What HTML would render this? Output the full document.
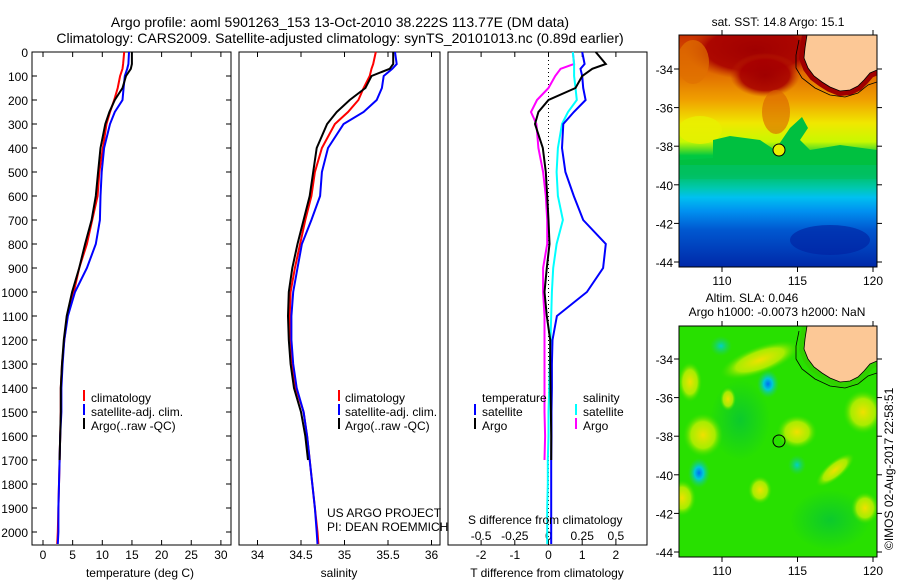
<!DOCTYPE html>
<html><head><meta charset="utf-8"><style>
body{margin:0;background:#fff;}
svg text{font-family:"Liberation Sans",sans-serif;fill:#000;}
</style></head><body>
<svg id="fig" width="900" height="580" viewBox="0 0 900 580" xmlns="http://www.w3.org/2000/svg">
<defs>
<linearGradient id="sstg" x1="0" y1="0" x2="0" y2="1">
<stop offset="0" stop-color="#c83000"/><stop offset="0.16" stop-color="#e06a00"/>
<stop offset="0.28" stop-color="#f0a000"/><stop offset="0.38" stop-color="#f0e800"/>
<stop offset="0.46" stop-color="#c8f800"/><stop offset="0.52" stop-color="#00c840"/>
<stop offset="0.6" stop-color="#00c060"/><stop offset="0.66" stop-color="#00c8b0"/>
<stop offset="0.7" stop-color="#00c0f0"/><stop offset="0.76" stop-color="#0090f0"/>
<stop offset="0.84" stop-color="#0058d0"/><stop offset="1" stop-color="#0028a8"/>
</linearGradient>
<radialGradient id="yel"><stop offset="0" stop-color="#f0e000"/><stop offset="0.6" stop-color="#c8f000" stop-opacity="0.8"/><stop offset="1" stop-color="#40e000" stop-opacity="0"/></radialGradient>
<radialGradient id="cya"><stop offset="0" stop-color="#0070f0"/><stop offset="0.4" stop-color="#00c8d8"/><stop offset="1" stop-color="#20d060" stop-opacity="0"/></radialGradient>
<radialGradient id="cyl"><stop offset="0" stop-color="#00d0c8"/><stop offset="1" stop-color="#20d060" stop-opacity="0"/></radialGradient>
<radialGradient id="drk"><stop offset="0" stop-color="#a00000"/><stop offset="0.7" stop-color="#a80000" stop-opacity="0.9"/><stop offset="1" stop-color="#c03000" stop-opacity="0"/></radialGradient>
<radialGradient id="grn"><stop offset="0" stop-color="#00c040"/><stop offset="1" stop-color="#00c040" stop-opacity="0"/></radialGradient>
<clipPath id="clipTop"><rect x="679" y="35" width="198" height="232"/></clipPath>
<clipPath id="clipBot"><rect x="679" y="326" width="198" height="231"/></clipPath>
</defs>

<text x="340" y="27" font-size="14" text-anchor="middle">Argo profile: aoml 5901263_153 13-Oct-2010 38.222S 113.77E (DM data)</text>
<text x="340" y="43" font-size="14" text-anchor="middle">Climatology: CARS2009. Satellite-adjusted climatology: synTS_20101013.nc (0.89d earlier)</text>

<g id="p1"></g>
<g id="p2"></g>
<g id="p3"></g>

<g font-size="12">
<rect x="83" y="390" width="2" height="11" fill="#f00"/><text x="91" y="402">climatology</text>
<rect x="83" y="404" width="2" height="11" fill="#00f"/><text x="91" y="416">satellite-adj. clim.</text>
<rect x="83" y="418" width="2" height="11" fill="#000"/><text x="91" y="430">Argo(..raw -QC)</text>
</g>
<g font-size="12">
<rect x="338" y="390" width="2" height="11" fill="#f00"/><text x="345" y="402">climatology</text>
<rect x="338" y="404" width="2" height="11" fill="#00f"/><text x="345" y="416">satellite-adj. clim.</text>
<rect x="338" y="418" width="2" height="11" fill="#000"/><text x="345" y="430">Argo(..raw -QC)</text>
</g>
<g font-size="12">
<text x="482" y="402">temperature</text><text x="583" y="402">salinity</text>
<rect x="474" y="404" width="2" height="11" fill="#00f"/><text x="482" y="416">satellite</text>
<rect x="474" y="418" width="2" height="11" fill="#000"/><text x="482" y="430">Argo</text>
<rect x="575" y="404" width="2" height="11" fill="#0ff"/><text x="583" y="416">satellite</text>
<rect x="575" y="418" width="2" height="11" fill="#f0f"/><text x="583" y="430">Argo</text>
</g>
<text x="327" y="517" font-size="12">US ARGO PROJECT</text>
<text x="327" y="531" font-size="12">PI: DEAN ROEMMICH</text>
<text x="468" y="524" font-size="12">S difference from climatology</text>

<g>
<g clip-path="url(#clipTop)">
<rect x="679" y="35" width="198" height="232" fill="url(#sstg)"/>
<ellipse cx="755" cy="50" rx="70" ry="30" fill="url(#drk)"/>
<ellipse cx="765" cy="75" rx="35" ry="22" fill="url(#drk)"/>
<ellipse cx="693" cy="62" rx="16" ry="22" fill="#e07000" opacity="0.7"/>
<ellipse cx="776" cy="112" rx="14" ry="22" fill="#d86000" opacity="0.6"/>
<ellipse cx="700" cy="130" rx="22" ry="14" fill="#e8f000" opacity="0.8"/>
<path d="M713,140 L730,136 L760,140 L775,150 L790,128 L802,117 L808,128 L800,140 L810,150 L840,145 L877,150 L877,165 L679,165 L679,160 L713,158 Z" fill="#00c040"/>
<rect x="679" y="165" width="198" height="14" fill="#00c060" opacity="0.6"/>
<ellipse cx="830" cy="240" rx="40" ry="15" fill="#0020a0" opacity="0.6"/>
<path d="M807,35 L805,48 L804,58 L808,68 L814,76 L822,82 L830,87 L840,91 L850,90 L858,86 L864,80 L870,73 L877,70 L877,35 Z" fill="#a00000" stroke="#a00000" stroke-width="10"/>
<path d="M807,35 L805,48 L804,58 L808,68 L814,76 L822,82 L830,87 L840,91 L850,90 L858,86 L864,80 L870,73 L877,70 L877,35 Z" fill="#fcc896" stroke="#000" stroke-width="0.8"/>
<path d="M799,40 L796,55 L796,68 L802,78 L815,88 L830,95 L845,97 L858,93 L868,85 L877,82" fill="none" stroke="#000" stroke-width="0.8"/>
</g>
<rect x="679" y="35" width="198" height="232" fill="none" stroke="#000" stroke-width="1"/>
<circle id="argoTop" cx="779" cy="150" r="6" fill="#e8f000" stroke="#000" stroke-width="1"/>
<text x="778" y="26" font-size="12" text-anchor="middle">sat. SST: 14.8 Argo: 15.1</text>
</g>

<g>
<g clip-path="url(#clipBot)">
<rect x="679" y="326" width="198" height="231" fill="#28e000"/>
<ellipse cx="740" cy="420" rx="30" ry="40" fill="url(#grn)" opacity="0.7"/>
<ellipse cx="830" cy="520" rx="40" ry="30" fill="url(#grn)" opacity="0.7"/>
<ellipse cx="760" cy="360" rx="42" ry="14" transform="rotate(-20 760 360)" fill="url(#yel)"/>
<ellipse cx="703" cy="435" rx="20" ry="22" fill="url(#yel)"/>
<ellipse cx="797" cy="432" rx="20" ry="17" fill="url(#yel)"/>
<ellipse cx="863" cy="412" rx="20" ry="22" fill="url(#yel)"/>
<ellipse cx="690" cy="382" rx="12" ry="20" fill="url(#yel)"/>
<ellipse cx="760" cy="490" rx="12" ry="14" fill="url(#yel)"/>
<ellipse cx="865" cy="508" rx="14" ry="16" fill="url(#yel)"/>
<ellipse cx="682" cy="498" rx="14" ry="18" fill="url(#yel)"/>
<ellipse cx="835" cy="470" rx="24" ry="9" transform="rotate(-40 835 470)" fill="url(#yel)"/>
<ellipse cx="728" cy="399" rx="8" ry="12" fill="url(#yel)"/>
<ellipse cx="768" cy="384" rx="11" ry="14" fill="url(#cya)"/>
<ellipse cx="699" cy="473" rx="11" ry="15" fill="url(#cya)"/>
<ellipse cx="721" cy="346" rx="11" ry="10" fill="url(#cyl)"/>
<ellipse cx="797" cy="465" rx="9" ry="10" fill="url(#cyl)"/>
<path d="M807,326 L805,339 L804,349 L808,359 L814,367 L822,373 L830,378 L840,382 L850,381 L858,377 L864,371 L870,364 L877,361 L877,326 Z" fill="#30d000" stroke="#30d000" stroke-width="10"/>
<path d="M807,326 L805,339 L804,349 L808,359 L814,367 L822,373 L830,378 L840,382 L850,381 L858,377 L864,371 L870,364 L877,361 L877,326 Z" fill="#fcc896" stroke="#000" stroke-width="0.8"/>
<path d="M799,331 L796,346 L796,359 L802,369 L815,379 L830,386 L845,388 L858,384 L868,376 L877,373" fill="none" stroke="#000" stroke-width="0.8"/>
</g>
<rect x="679" y="326" width="198" height="231" fill="none" stroke="#000" stroke-width="1"/>
<circle cx="779" cy="441" r="6" fill="none" stroke="#000" stroke-width="1"/>
<text x="752" y="302" font-size="12" text-anchor="middle">Altim. SLA: 0.046</text>
<text x="777" y="316" font-size="12" text-anchor="middle">Argo h1000: -0.0073 h2000: NaN</text>
</g>
<g id="mapaxes"></g>
<text transform="translate(893,550) rotate(-90)" font-size="12">©IMOS 02-Aug-2017 22:58:51</text>
</svg>
<script>
const depths=[0,50,70,100,150,200,250,300,400,500,600,700,800,900,1000,1100,1200,1300,1400,1500,1600,1700,1800,1900,2000,2050];
const tempClim=[13.7,13.5,13.4,13.0,12.6,12.0,11.3,10.7,10.1,9.5,9.2,8.3,7.4,6.1,5.2,4.1,3.6,3.2,3.0,3.0,2.9,2.8,2.7,2.6,2.5,2.4];
const tempSat=[14.5,14.4,14.2,13.8,13.6,13.4,12.1,11.3,10.3,9.9,9.7,9.6,8.9,7.4,5.4,4.2,3.6,3.3,3.1,3.1,2.9,2.8,2.7,2.6,2.6,2.5];
const tempArgo=[15.0,15.0,14.8,14.0,13.4,12.1,11.2,10.5,9.7,9.3,8.9,8.2,7.1,6.1,4.9,4.0,3.5,3.2,3.0,3.0,2.9,2.8];
const salClim=[35.36,35.33,35.31,35.29,35.22,35.16,35.04,34.89,34.74,34.66,34.62,34.55,34.49,34.43,34.38,34.37,34.38,34.40,34.44,34.53,34.57,34.60,34.63,34.66,34.69,34.70];
const salSat=[35.58,35.60,35.55,35.45,35.43,35.37,35.22,34.99,34.81,34.74,34.72,34.62,34.51,34.46,34.41,34.39,34.39,34.41,34.45,34.53,34.57,34.60,34.63,34.66,34.68,34.69];
const salArgo=[35.56,35.56,35.52,35.31,35.24,35.06,34.91,34.80,34.68,34.64,34.60,34.53,34.46,34.40,34.36,34.35,34.36,34.38,34.42,34.50,34.55,34.58];
const dTSat=[1.0,1.07,0.95,1.0,1.03,1.1,0.75,0.44,0.4,0.5,0.75,1.03,1.7,1.62,1.14,0.25,0.12,0.1,0.1,0.09,0.09,0.08,0.08,0.08,0.08,0.08];
const dTArgo=[1.4,1.7,1.3,1.0,0.8,0.0,-0.3,-0.4,-0.17,-0.08,-0.04,0,0.03,-0.05,-0.12,-0.05,0.05,0.05,0.06,0.07,0.08,0.08];
const dSSat=[0.18,0.19,0.19,0.19,0.2,0.21,0.145,0.1,0.07,0.06,0.07,0.107,0.06,0.035,0.025,0.02,0.015,0.01,0.005,0,0,-0.005,-0.005,-0.01,-0.01,-0.01];
const dSArgo=[0.18,0.19,0.09,0.05,0.0,-0.085,-0.13,-0.09,-0.075,-0.04,-0.02,-0.01,-0.01,-0.04,-0.04,-0.03,-0.03,-0.03,-0.03,-0.03,-0.025,-0.03];
const depthTicks=[0,100,200,300,400,500,600,700,800,900,1000,1100,1200,1300,1400,1500,1600,1700,1800,1900,2000];
const tempTicks=[0,5,10,15,20,25,30];
const salTicks=[34,34.5,35,35.5,36];
const salTickLabels=["34","34.5","35","35.5","36"];
const dTTicks=[-2,-1,0,1,2];
const dSTicks=[-0.5,-0.25,0,0.25,0.5];
const dSTickLabels=["-0.5","-0.25","0","0.25","0.5"];
const lonTicks=[110,115,120];
const latTicks=[-34,-36,-38,-40,-42,-44];

const NS='http://www.w3.org/2000/svg';
const TOP=52,BOT=545;
const yD=d=>TOP+d*0.24;
const xT=t=>43+t*5.93;
const xS=s=>257.5+(s-34)*87;
const xdT=t=>548.5+t*33.7;
const xdS=s=>548.5+s*134.8;
function mk(tag,attrs,parent){const e=document.createElementNS(NS,tag);for(const k in attrs)e.setAttribute(k,attrs[k]);parent.appendChild(e);return e;}
function line(g,vals,xf,color,name){
  let d='';vals.forEach((v,i)=>{d+=(i?'L':'M')+xf(v).toFixed(1)+','+yD(depths[i]).toFixed(1);});
  const p=mk('path',{d:d,fill:'none',stroke:color,'stroke-width':2},g);
  
  
}
function frame(g,x0,x1){
  const r=mk('rect',{x:x0,y:TOP,width:x1-x0,height:BOT-TOP,fill:'none',stroke:'#000','stroke-width':1},g);
  
  
}
function xTicks(g,ticks,labels,xf,ly,size){
  ticks.forEach((t,i)=>{const x=xf(t);
    mk('line',{x1:x,x2:x,y1:TOP,y2:TOP+5,stroke:'#000'},g);
    mk('line',{x1:x,x2:x,y1:BOT,y2:BOT-5,stroke:'#000'},g);
    if(labels){const tx=mk('text',{x:x,y:ly,'font-size':size||12,'text-anchor':'middle'},g);tx.textContent=labels[i];
      
      }
  });
}
const p1=document.getElementById('p1'),p2=document.getElementById('p2'),p3=document.getElementById('p3');
frame(p1,32,231);
depthTicks.forEach(d=>{const y=yD(d);mk('line',{x1:32,x2:37,y1:y,y2:y,stroke:'#000'},p1);mk('line',{x1:231,x2:226,y1:y,y2:y,stroke:'#000'},p1);
  const t=mk('text',{x:28,y:y+5,'font-size':12,'text-anchor':'end'},p1);t.textContent=d;
  
  });
xTicks(p1,tempTicks,tempTicks.map(String),xT,559);
line(p1,tempClim,xT,'#f00','temp-climatology-line');
line(p1,tempSat,xT,'#00f','temp-satellite-line');
line(p1,tempArgo,xT,'#000','temp-argo-line');
let t1=mk('text',{x:140,y:577,'font-size':12,'text-anchor':'middle'},p1);t1.textContent='temperature (deg C)';


frame(p2,239,440);
xTicks(p2,salTicks,salTickLabels,xS,559);
line(p2,salClim,xS,'#f00','sal-climatology-line');
line(p2,salSat,xS,'#00f','sal-satellite-line');
line(p2,salArgo,xS,'#000','sal-argo-line');
let t2=mk('text',{x:339,y:577,'font-size':12,'text-anchor':'middle'},p2);t2.textContent='salinity';


frame(p3,448,647);
xTicks(p3,dTTicks,dTTicks.map(String),xdT,559);
dSTicks.forEach((s,i)=>{const t=mk('text',{x:xdS(s),y:540,'font-size':12,'text-anchor':'middle'},p3);t.textContent=dSTickLabels[i];
  
  });
mk('line',{x1:xdT(0),x2:xdT(0),y1:TOP,y2:BOT,stroke:'#000','stroke-dasharray':'1,3'},p3);
line(p3,dSArgo,xdS,'#f0f','s-diff-argo-line');
line(p3,dSSat,xdS,'#0ff','s-diff-satellite-line');
line(p3,dTSat,xdT,'#00f','t-diff-satellite-line');
line(p3,dTArgo,xdT,'#000','t-diff-argo-line');
let t3=mk('text',{x:547,y:577,'font-size':12,'text-anchor':'middle'},p3);t3.textContent='T difference from climatology';


const ma=document.getElementById('mapaxes');
const xLon=l=>722+(l-110)*15.1;
[[35,267,69],[326,557,359]].forEach(([top,bot,y34])=>{
  const yLat=la=>y34+(-34-la)*19.3;
  lonTicks.forEach(l=>{const x=xLon(l);mk('line',{x1:x,x2:x,y1:top,y2:top-5,stroke:'#000'},ma);mk('line',{x1:x,x2:x,y1:bot,y2:bot+5,stroke:'#000'},ma);
    const t=mk('text',{x:x,y:bot+18,'font-size':12,'text-anchor':'middle'},ma);t.textContent=l;
    
    });
  latTicks.forEach(la=>{const y=yLat(la);mk('line',{x1:679,x2:674,y1:y,y2:y,stroke:'#000'},ma);mk('line',{x1:877,x2:882,y1:y,y2:y,stroke:'#000'},ma);
    const t=mk('text',{x:673,y:y+5,'font-size':12,'text-anchor':'end'},ma);t.textContent=la;
    
    });
});
</script>
</body></html>
